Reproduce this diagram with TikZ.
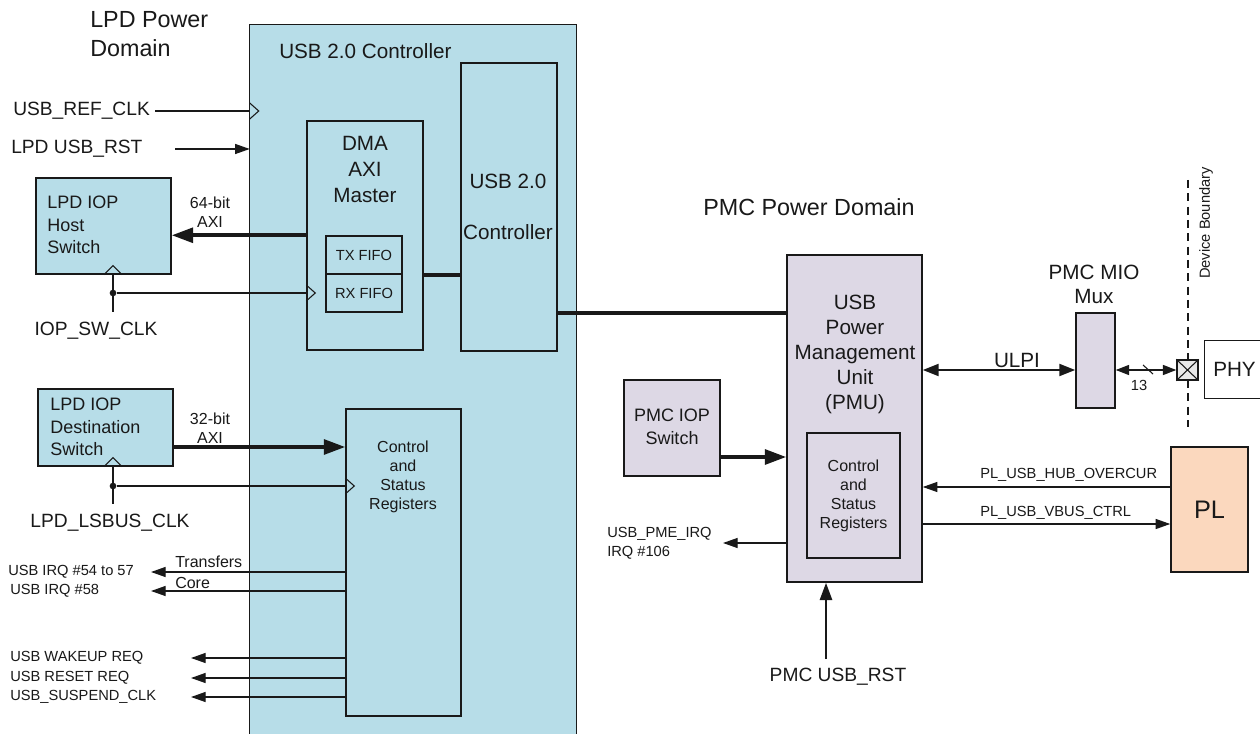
\documentclass[tikz,border=0pt]{standalone}
\usepackage{fontspec}
\setmainfont{Liberation Sans}
\usetikzlibrary{fit,arrows.meta}
\definecolor{lblue}{RGB}{183,221,232}
\definecolor{lav}{RGB}{221,216,229}
\definecolor{peach}{RGB}{251,216,190}
\definecolor{padgray}{RGB}{232,232,232}
\definecolor{lineblk}{RGB}{25,25,25}
\begin{document}
\begin{tikzpicture}[x=0.75pt,y=-0.75pt,
  box/.style={draw=lineblk, line width=1.1pt, inner sep=0pt},
  bluebox/.style={box, fill=lblue},
  lavbox/.style={box, fill=lav},
  txt/.style={inner sep=0pt, text=lineblk},
  huge/.style={txt, font=\fontsize{17.5}{21.75}\selectfont},
  big/.style={txt, font=\fontsize{15.5}{19}\selectfont},
  sigl/.style={txt, font=\fontsize{14.4}{18}\selectfont},
  mid/.style={txt, font=\fontsize{13.5}{17}\selectfont},
  smallb/.style={txt, font=\fontsize{12}{14.25}\selectfont},
  small/.style={txt, font=\fontsize{11}{14.25}\selectfont},
  sig/.style={draw=lineblk, line width=1pt},
  sigarrow/.style={sig, -{Triangle[length=11pt,width=7.5pt]}},
  sigboth/.style={sig, {Triangle[length=10pt,width=7.5pt]}-{Triangle[length=10pt,width=7.5pt]}},
  ulpiline/.style={draw=lineblk, line width=1.6pt, {Triangle[length=12pt,width=9pt]}-{Triangle[length=12pt,width=9pt]}},
  bus/.style={draw=lineblk, line width=2.8pt},
  busarrow/.style={bus, -{Triangle[length=16pt,width=11pt]}},
  rstarrow/.style={draw=lineblk, line width=2pt, -{Triangle[length=13pt,width=9pt]}},
  clk/.style={draw=lineblk, line width=0.8pt},
  dotc/.style={circle, fill=lineblk, inner sep=0pt, minimum size=5pt}
]
\useasboundingbox (0,0) rectangle (1260,734);
\fill[white] (0,0) rectangle (1260,734);

% ---------- LPD outer controller ----------
\node[fit={(250,25)(576,734)}, inner sep=0pt] (usb) {};
\fill[lblue] (usb.south west) rectangle (usb.north east);
\draw[box] (usb.south west) -- (usb.north west) -- (usb.north east) -- (usb.south east);
\node[big, anchor=west] (usbt) at (279,51) {USB 2.0 Controller};
\node[huge, align=left, anchor=west] (lpdlbl) at (90,34) {LPD Power\\Domain};

% inputs
\node[sigl, anchor=west] (refclk) at (13,111) {USB\_REF\_CLK};
\coordinate (cRef) at (155,111);
\draw[sig] (cRef) -- (cRef -| usb.west);
\draw[clk] (cRef -| usb.west) ++(0,-8) -- ++(9,8) -- ++(-9,8);
\node[sigl, anchor=west] (lpdrst) at (11,149) {LPD USB\_RST};
\coordinate (cRst) at (175,149);
\draw[sigarrow] (cRst) -- (cRst -| usb.west);

% DMA block
\node[bluebox, fit={(307,121)(423,350)}] (dma) {};
\node[big, align=center, font=\fontsize{15.5}{19.5}\selectfont] (dmat) at (365,169) {DMA\\AXI\\Master};
\node[bluebox, fit={(326,236)(402,274)}] (tx) {};
\node[small] (txt1) at (tx) {TX FIFO};
\node[bluebox, fit={(326,274)(402,312)}] (rx) {};
\node[small] (rxt1) at (rx) {RX FIFO};

% USB 2.0 core
\node[bluebox, fit={(461,63)(557,351)}] (uctrl) {};
\node[big] (uct1) at (508,181) {USB 2.0};
\node[big] (uct2) at (508,232) {Controller};
\draw[bus] (dma.east |- tx.south) -- (uctrl.west |- tx.south);

% Host switch
\node[bluebox, fit={(36,178)(171,274)}] (host) {};
\node[mid, align=left, anchor=west] (hostt) at (47,225) {LPD IOP\\Host\\Switch};
\node[smallb, align=center] (ax64) at (210,212) {64-bit\\AXI};
\draw[busarrow] (dma.west |- tx.north) -- (host.east |- tx.north);
\node[dotc] (iopdot) at (113,293) {};
\coordinate (iopEnd) at (113,312);
\draw[sig] (iopdot |- host.south) -- (iopEnd);
\draw[sig] (iopdot) -- (iopdot -| dma.west);
\draw[clk] (iopdot |- host.south) ++(-9,0) -- ++(9,-9) -- ++(9,9);
\draw[clk] (iopdot -| dma.west) ++(0,-8) -- ++(9,8) -- ++(-9,8);
\node[sigl] (iopclk) at (96,331) {IOP\_SW\_CLK};

% Destination switch and CSR
\node[bluebox, fit={(38,389)(173,466)}] (dest) {};
\node[mid, align=left, anchor=west] (destt) at (50,427) {LPD IOP\\Destination\\Switch};
\node[smallb, align=center] (ax32) at (210,428) {32-bit\\AXI};
\node[bluebox, fit={(346,409)(461,716)}] (csr) {};
\node[smallb, align=center] (csrt) at (403,477) {Control\\and\\Status\\Registers};
\coordinate (y32) at (0,447);
\draw[busarrow] (dest.east |- y32) -- (csr.west |- y32);
\node[dotc] (lsdot) at (113,486) {};
\coordinate (lsEnd) at (113,504);
\draw[sig] (lsdot |- dest.south) -- (lsEnd);
\draw[sig] (lsdot) -- (lsdot -| csr.west);
\draw[clk] (lsdot |- dest.south) ++(-9,0) -- ++(9,-9) -- ++(9,9);
\draw[clk] (lsdot -| csr.west) ++(0,-8) -- ++(9,8) -- ++(-9,8);
\node[sigl] (lsclk) at (110,523) {LPD\_LSBUS\_CLK};

% IRQ outputs
\coordinate (irqA) at (151,572);
\coordinate (irqB) at (151,591);
\draw[sigarrow] (csr.west |- irqA) -- (irqA);
\draw[sigarrow] (csr.west |- irqB) -- (irqB);
\node[smallb, anchor=west] (trf) at (175,562) {Transfers};
\node[smallb, anchor=west] (core) at (175,583) {Core};
\node[small, anchor=west] (irq1) at (8,572) {USB IRQ \#54 to 57};
\node[small, anchor=west] (irq2) at (10,591) {USB IRQ \#58};
\coordinate (wk) at (191,658);
\coordinate (rs) at (191,678);
\coordinate (sp) at (191,697);
\draw[sigarrow] (csr.west |- wk) -- (wk);
\draw[sigarrow] (csr.west |- rs) -- (rs);
\draw[sigarrow] (csr.west |- sp) -- (sp);
\node[small, anchor=west] (wkt) at (10,658) {USB WAKEUP REQ};
\node[small, anchor=west] (rst) at (10,678) {USB RESET REQ};
\node[small, anchor=west] (spt) at (10,697) {USB\_SUSPEND\_CLK};

% ---------- PMC domain ----------
\node[huge, anchor=west] (pmclbl) at (703,207) {PMC Power Domain};
\node[lavbox, fit={(787,255)(922,582)}] (pmu) {};
\node[big, align=center, font=\fontsize{15.5}{18.75}\selectfont] (pmut) at (855,354) {USB\\Power\\Management\\Unit\\(PMU)};
\node[lavbox, fit={(807,433)(900,558)}] (pcsr) {};
\node[smallb, align=center] (pcsrt) at (pcsr) {Control\\and\\Status\\Registers};
\draw[bus] (uctrl.east |- rx.south) -- (pmu.west |- rx.south);

\node[lavbox, fit={(624,380)(720,476)}] (piop) {};
\node[mid, align=center] (piopt) at (672,427) {PMC IOP\\Switch};
\coordinate (yIop) at (0,457);
\draw[busarrow] (piop.east |- yIop) -- (pmu.west |- yIop);

\coordinate (pme) at (723,543);
\draw[sigarrow] (pmu.west |- pme) -- (pme);
\node[small, align=left, anchor=west] (pmet) at (607,543) {USB\_PME\_IRQ\\IRQ \#106};

\coordinate (rstStart) at (826,659);
\draw[rstarrow] (rstStart) -- (rstStart |- pmu.south);
\node[sigl] (pmcrst) at (838,677) {PMC USB\_RST};

% PL
\node[box, fill=peach, fit={(1171,447)(1248,572)}] (pl) {};
\node[txt, font=\fontsize{19}{22}\selectfont] (plt) at (pl) {PL};
\coordinate (yHub) at (0,487);
\coordinate (yVbus) at (0,524);
\draw[sigarrow] (pl.west |- yHub) -- (pmu.east |- yHub);
\draw[sigarrow] (pmu.east |- yVbus) -- (pl.west |- yVbus);
\node[small, anchor=west] (hubt) at (980,475) {PL\_USB\_HUB\_OVERCUR};
\node[small, anchor=west] (vbust) at (980,513) {PL\_USB\_VBUS\_CTRL};

% MIO mux, pad, PHY
\node[lavbox, fit={(1076,313)(1115,408)}] (mux) {};
\node[big, align=center, font=\fontsize{15.5}{18}\selectfont] (muxt) at (1094,284) {PMC MIO\\Mux};
\coordinate (yUlpi) at (0,370);
\draw[ulpiline] (pmu.east |- yUlpi) -- (mux.west |- yUlpi);
\node[big] (ulpit) at (1017,360) {ULPI};

\coordinate (dbTop) at (1188,180);
\coordinate (dbBot) at (1188,427);
\draw[clk, dashed, dash pattern=on 6pt off 4pt] (dbTop) -- (dbBot);
\node[small, rotate=90] (dbt) at (1206,223) {Device Boundary};

\node[box, fill=padgray, fit={(1177,360)(1198,380)}] (pad) {};
\draw[clk] (pad.north west) -- (pad.south east) (pad.south west) -- (pad.north east);
\draw[sigboth] (mux.east |- yUlpi) -- (pad.west);
\draw[clk] (1143,365) -- (1153,374);
\node[small] (n13) at (1139,385) {13};

\node[fit={(1205,341)(1260,398)}, inner sep=0pt] (phy) {};
\draw[box] (phy.north east) -- (phy.north west) -- (phy.south west) -- (phy.south east);
\node[big, anchor=west] (phyt) at (1213,369) {PHY};
\end{tikzpicture}
\end{document}
